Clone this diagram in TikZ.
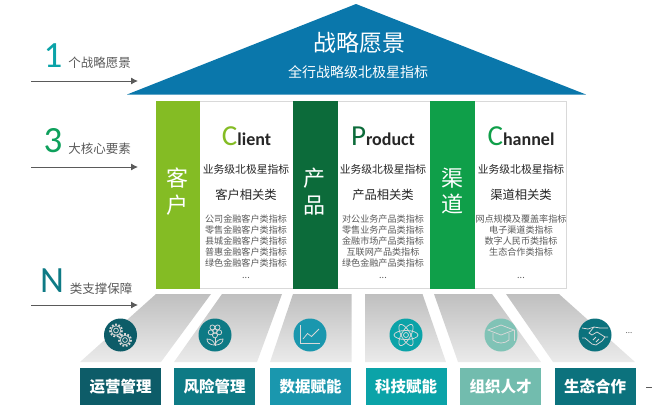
\documentclass[tikz,border=0pt]{standalone}
\usepackage{fontspec}
\setmainfont{Noto Sans CJK SC}
\newfontfamily\latinf{Carlito}
\usetikzlibrary{arrows.meta}
\definecolor{roofblue}{HTML}{0A77AB}
\definecolor{gA}{HTML}{84BC24}
\definecolor{gB}{HTML}{0C6B3A}
\definecolor{gC}{HTML}{0F9F49}
\definecolor{bA}{HTML}{0D5C68}
\definecolor{bB}{HTML}{0E7A85}
\definecolor{bC}{HTML}{1A97AE}
\definecolor{bD}{HTML}{0BA3A8}
\definecolor{bE}{HTML}{72BCAE}
\definecolor{bF}{HTML}{0C727D}
\definecolor{graytxt}{HTML}{5A5A5A}
\newcommand{\fs}[1]{\fontsize{#1}{#1}\selectfont}
\tikzset{
  x=1pt,y=-1pt,
  txt/.style={inner sep=0pt,outer sep=0pt,align=center},
  bignum/.style={txt,font=\latinf\fs{37}},
  sidetxt/.style={txt,text=graytxt,font=\fs{12.5}},
  sidearrow/.style={draw=graytxt,line width=0.9pt,-{Latex[length=7pt,width=7pt]}},
  pillar/.style={txt,text=white,font=\fs{22}},
  lead/.style={txt,text=black!85,font=\fs{10.8}},
  sub/.style={txt,text=black!85,font=\fs{12.3}},
  items/.style={txt,text=graytxt,font=\fs{9.1},anchor=north},
  plank/.style={top color=black!25,bottom color=black!8,draw=none},
  base/.style={draw=none,minimum height=37pt,inner sep=0pt,text=white,font=\bfseries\fs{15.5}},
  badge/.style={circle,minimum size=33pt,inner sep=0pt,draw=none},
  ico/.style={draw=white!85!black,line width=0.75pt,fill=none},
}
\newcommand{\gearicon}[3]{%
  \draw[ico,line width=1.8pt,dash pattern=on 1.8pt off 1.6pt] (#1,#2) circle (#3);
  \draw[ico] (#1,#2) circle ({#3-1.2}) (#1,#2) circle ({#3-3.6});
}
\newcommand{\wordC}[3]{{\latinf\color{#1}\fs{29}#2}{\latinf\bfseries\color{black!85}\fs{18}#3}}
\begin{document}
\begin{tikzpicture}
\useasboundingbox (0,0) rectangle (670,413);
% roof
\path[fill=roofblue] (127,94.5) -- (356,4) -- (586,94.5) -- cycle;
\node[txt,text=white,font=\fs{23}] (roofa) at (359,43) {战略愿景};
\node[txt,text=white,font=\fs{14}] (roofb) at (358,72) {全行战略级北极星指标};
% left legends
\node[bignum,text=bD] (n1) at (53,56) {1};
\node[sidetxt] (t1) at (99.5,63) {个战略愿景};
\coordinate (a1s) at (31,81); \coordinate (a1e) at (138,81);
\draw[sidearrow] (a1s) -- (a1e);
\node[bignum,text=gC!80!bD] (n3) at (53,141) {3};
\node[sidetxt] (t3) at (99.5,149) {大核心要素};
\coordinate (a3s) at (31,167); \coordinate (a3e) at (138,167);
\draw[sidearrow] (a3s) -- (a3e);
\node[bignum,text=bB] (nn) at (52,281) {N};
\node[sidetxt] (tn) at (101,289) {类支撑保障};
\coordinate (ans) at (31,305); \coordinate (ane) at (138,305);
\draw[sidearrow] (ans) -- (ane);
% panel
\path[draw=black!15,line width=0.7pt,fill=white] (156,101.5) rectangle (566.5,288);
\path[fill=gA] (156,101) rectangle (200,288.5);
\path[fill=gB] (293,101) rectangle (337.5,288.5);
\path[fill=gC] (430,101) rectangle (475,288.5);
\node[pillar] (p1) at (177.5,191.5) {客\\[5pt]户};
\node[pillar] (p2) at (314.5,191.5) {产\\[5pt]品};
\node[pillar] (p3) at (452,191) {渠\\[4pt]道};
% column 1
\node[txt] (c1) at (246.5,136) {\wordC{gA}{C}{lient}};
\node[lead] (c1a) at (246,169) {业务级北极星指标};
\node[sub] (c1b) at (246,195) {客户相关类};
\node[items] (c1c) at (246,214.5) {公司金融客户类指标\\[1.9pt]零售金融客户类指标\\[1.9pt]县城金融客户类指标\\[1.9pt]普惠金融客户类指标\\[1.9pt]绿色金融客户类指标\\[3pt]...};
% column 2
\node[txt] (c2) at (383,136) {\wordC{gB}{P}{roduct}};
\node[lead] (c2a) at (383,169) {业务级北极星指标};
\node[sub] (c2b) at (383,195) {产品相关类};
\node[items] (c2c) at (383,214.5) {对公业务产品类指标\\[1.9pt]零售业务产品类指标\\[1.9pt]金融市场产品类指标\\[1.9pt]互联网产品类指标\\[1.9pt]绿色金融产品类指标\\[3pt]...};
% column 3
\node[txt] (c3) at (521,136) {\wordC{gC}{C}{hannel}};
\node[lead] (c3a) at (521,169) {业务级北极星指标};
\node[sub] (c3b) at (521,195) {渠道相关类};
\node[items] (c3c) at (521,214.5) {网点规模及覆盖率指标\\[1.9pt]电子渠道类指标\\[1.9pt]数字人民币类指标\\[1.9pt]生态合作类指标\\[1.9pt]\phantom{指}\\[3pt]...};
% planks
\path[plank] (156,294) -- (211,294) -- (161,362) -- (80,362) -- cycle;
\path[plank] (222,294) -- (282,294) -- (257,362) -- (174,362) -- cycle;
\path[plank] (293,294) -- (351.5,294) -- (351.5,362) -- (270,362) -- cycle;
\path[plank] (365,294) -- (422.5,294) -- (446,362) -- (365,362) -- cycle;
\path[plank] (434,294) -- (492,294) -- (541,362) -- (458,362) -- cycle;
\path[plank] (506,294) -- (559,294) -- (635,362) -- (553,362) -- cycle;
% bases
\node[base,fill=bA,minimum width=81pt] (b1) at (120.5,386.5) {运营管理};
\node[base,fill=bB,minimum width=81pt] (b2) at (214.5,386.5) {风险管理};
\node[base,fill=bC,minimum width=81pt] (b3) at (310.5,386.5) {数据赋能};
\node[base,fill=bD,minimum width=81pt] (b4) at (406,386.5) {科技赋能};
\node[base,fill=bE,minimum width=81pt] (b5) at (500.5,386.5) {组织人才};
\node[base,fill=bF,minimum width=81pt] (b6) at (595,386.5) {生态合作};
% badges
\node[badge,fill=bA] (i1) at (120.5,335) {};
\node[badge,fill=bB] (i2) at (215,335) {};
\node[badge,fill=bC] (i3) at (310,335) {};
\node[badge,fill=bD] (i4) at (406,335) {};
\node[badge,fill=bE!90!white] (i5) at (501,335) {};
\node[badge,fill=bF] (i6) at (595,335) {};
% gears
\gearicon{116}{330.5}{6}
\gearicon{125}{340}{6}
% flower
\begin{scope}[shift={(215,331)}]
  \draw[ico] (0,0) circle (2.2);
  \foreach \a in {0,72,144,216,288}{\draw[ico] (\a+90:4.4) circle (2.5);}
  \draw[ico] (0,6.5) -- (0,15);
  \draw[ico] (0,14) .. controls (-7,14) and (-8,10) .. (-8,8) .. controls (-4,8) and (-1,10) .. (0,14);
  \draw[ico] (0,14) .. controls (7,14) and (8,10) .. (8,8) .. controls (4,8) and (1,10) .. (0,14);
\end{scope}
% chart
\begin{scope}[shift={(310,335)}]
  \draw[ico] (-10,-10) -- (-10,8) -- (10,8);
  \draw[ico] (-7,4) -- (-2.5,-1.5) -- (1.5,1.5) -- (9,-6);
\end{scope}
% atom
\begin{scope}[shift={(406,335)}]
  \draw[ico] (0,0) ellipse (12 and 4.5);
  \draw[ico,rotate=60] (0,0) ellipse (12 and 4.5);
  \draw[ico,rotate=-60] (0,0) ellipse (12 and 4.5);
  \draw[ico] (0,0) circle (2.5);
\end{scope}
% hat
\begin{scope}[shift={(501,335)}]
  \draw[ico] (-13,-5) -- (0,-10) -- (13,-5) -- (0,0) -- cycle;
  \draw[ico] (-8,-2) -- (-8,5) .. controls (-4,9) and (4,9) .. (8,5) -- (8,-2);
  \draw[ico] (13,-5) -- (13,6);
\end{scope}
% handshake
\begin{scope}[shift={(595,335)}]
  \draw[ico] (-13,-7) -- (-7,-6) -- (-1,-8) -- (5,-7) -- (13,-7);
  \draw[ico] (-13,3) -- (-10,3) -- (-3,9) -- (1,10) -- (7,6) -- (10,2) -- (13,2);
  \draw[ico] (-1,-8) -- (-6,-2) -- (-3,0) -- (2,-3) -- (10,2);
  \draw[ico] (-2,5) -- (1,2) (1,7) -- (4,4);
\end{scope}
% stray marks
\node[txt,text=graytxt,font=\fs{8}] (d1) at (629,333) {...};
\coordinate (das) at (646,387); \coordinate (dae) at (652,387);
\draw[draw=graytxt,line width=0.8pt] (das) -- (dae);
\end{tikzpicture}
\end{document}
